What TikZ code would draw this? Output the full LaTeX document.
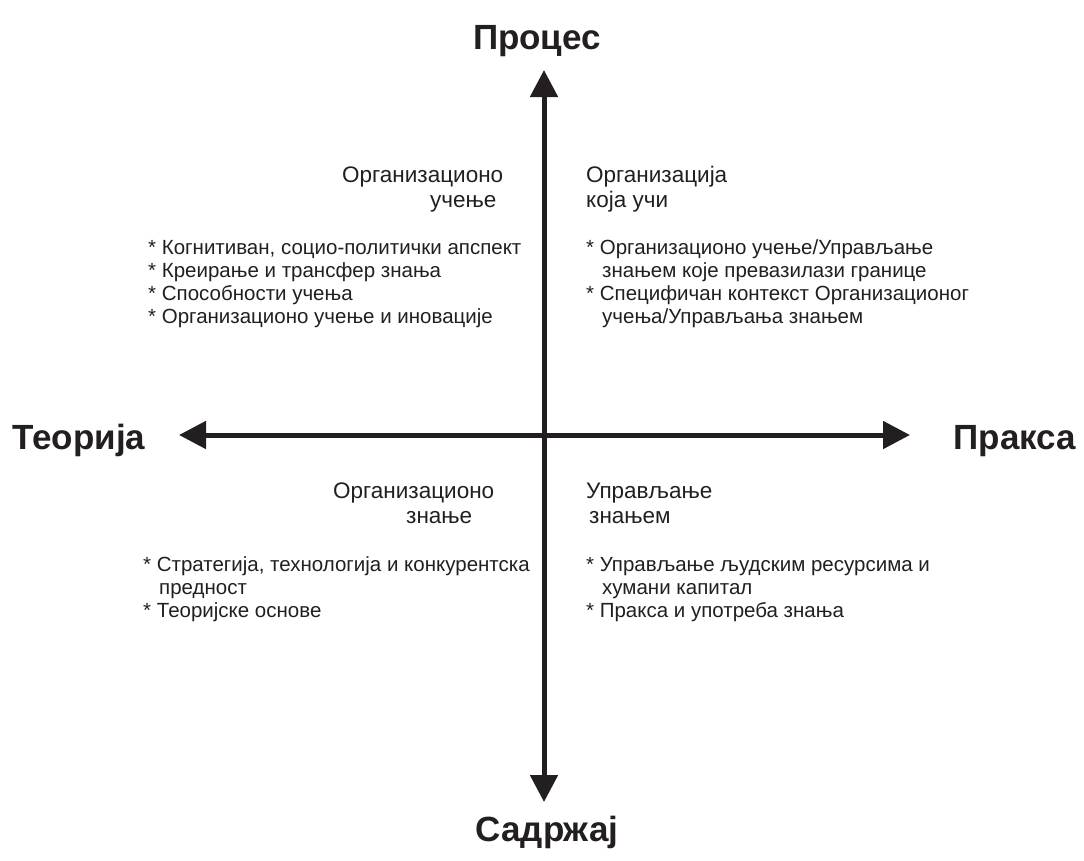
\documentclass[tikz,border=0pt]{standalone}
\usepackage{fontspec}
\setmainfont{Liberation Sans}
\usetikzlibrary{arrows.meta}
\definecolor{ink}{HTML}{231F20}
\begin{document}
\begin{tikzpicture}[x=1pt,y=-1pt,
  axis/.style={draw=ink,line width=5pt,
    {Triangle[length=27pt,width=27pt]}-{Triangle[length=27pt,width=27pt]}},
  axislabel/.style={font=\fontsize{35}{40}\selectfont\bfseries,text=ink,inner sep=0pt,anchor=base},
  heading/.style={font=\fontsize{22.5}{25}\selectfont,text=ink,inner sep=0pt,align=left,anchor=base west},
  items/.style={font=\fontsize{20.5}{23}\selectfont,text=ink,inner sep=0pt,align=left,anchor=base west}]
\useasboundingbox[fill=white] (0,0) rectangle (1084,860);
% axes
\coordinate (top) at (544,70);
\coordinate (bottom) at (544,802);
\coordinate (left) at (179,435);
\coordinate (right) at (910,435);
\draw[axis] (bottom) -- (top);
\draw[axis] (left) -- (right);
% axis labels (base anchor = baseline)
\node[axislabel] (proc) at (537,49) {Процес};
\node[axislabel] (sadr) at (547,841) {Садржај};
\node[axislabel] (teor) at (79,449) {Теорија};
\node[axislabel] (prak) at (1015,449) {Пракса};
% quadrant headings (anchored at the baseline of the last line)
\node[heading] (ou) at (342,207) {Организационо\\\hspace*{88pt}учење};
\node[heading] (okv) at (586,207) {Организација\\која учи};
\node[heading] (oz) at (333,523) {Организационо\\\hspace*{73pt}знање};
\node[heading] (uz) at (586,523) {Управљање\\\hspace*{3pt}знањем};
% quadrant items
\node[items] (ouit) at (148,323) {* Когнитиван, социо-политички апспект\\* Креирање и трансфер знања\\* Способности учења\\* Организационо учење и иновације};
\node[items] (okvit) at (586,323) {* Организационо учење/Управљање\\\hspace*{16pt}знањем које превазилази границе\\* Специфичан контекст Организационог\\\hspace*{16pt}учења/Управљања знањем};
\node[items] (ozit) at (143,617) {* Стратегија, технологија и конкурентска\\\hspace*{16pt}предност\\* Теоријске основе};
\node[items] (uzit) at (586,617) {* Управљање људским ресурсима и\\\hspace*{16pt}хумани капитал\\* Пракса и употреба знања};
\end{tikzpicture}
\end{document}
